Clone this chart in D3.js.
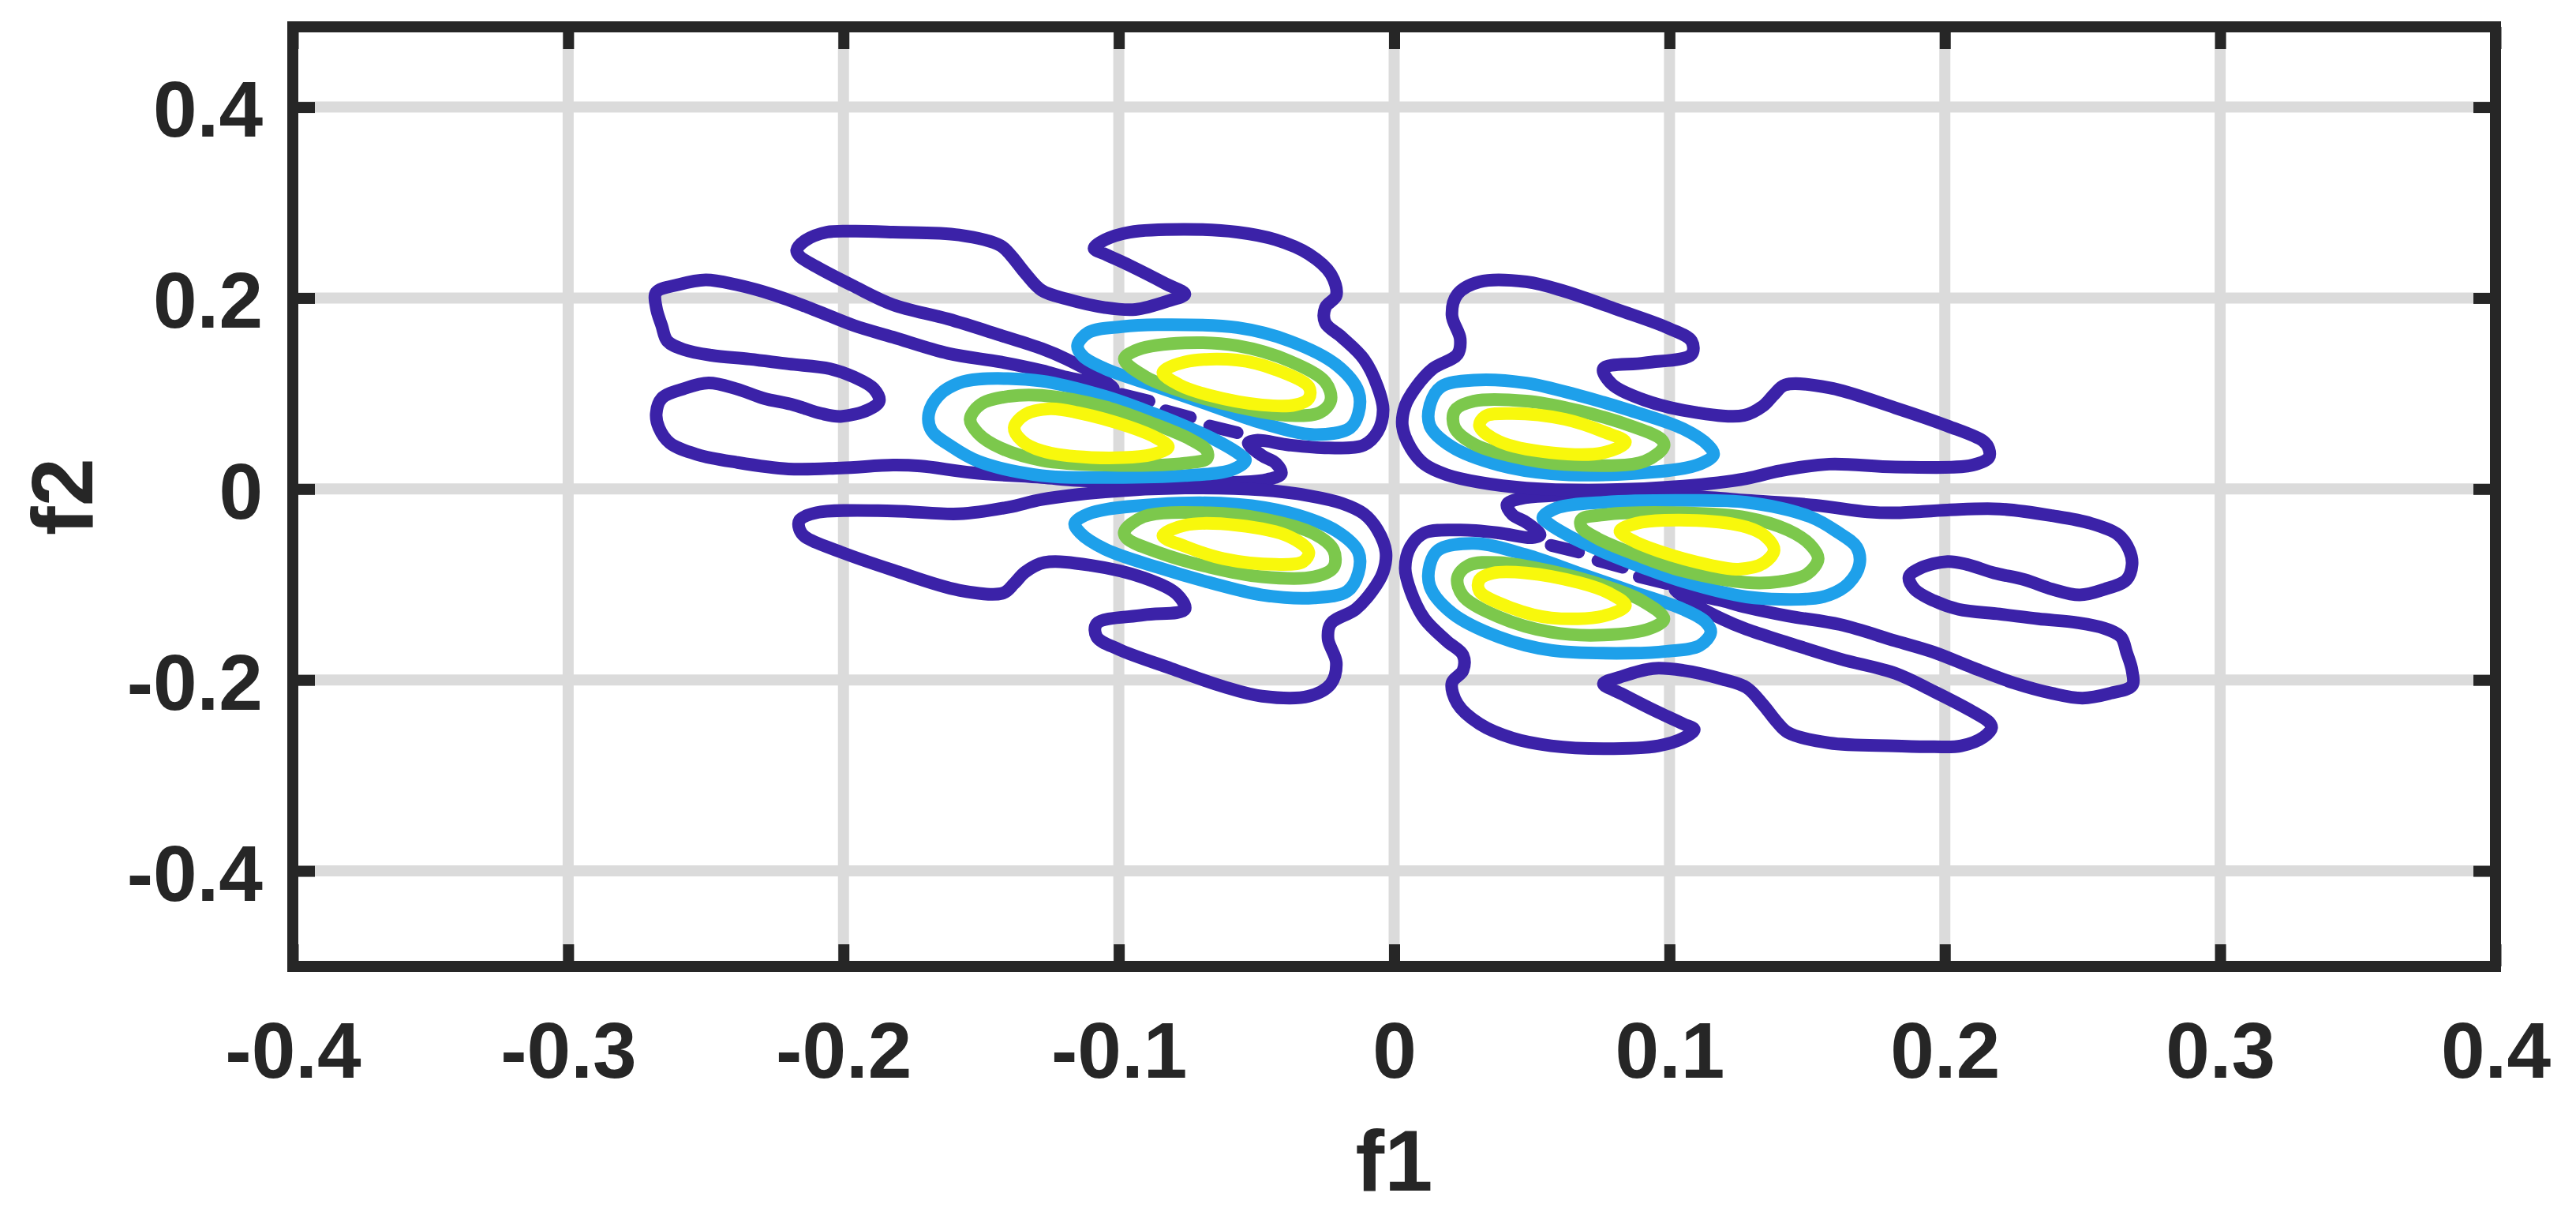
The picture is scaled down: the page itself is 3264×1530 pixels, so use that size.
<!DOCTYPE html>
<html><head><meta charset="utf-8">
<script src="https://cdn.jsdelivr.net/npm/d3@7"></script>
<style>html,body{margin:0;padding:0;background:#fff;}</style>
</head><body>
<svg id="chart" width="3264" height="1530"></svg>
<script>
// ---------------- data ----------------
const xTicks = [-0.4, -0.3, -0.2, -0.1, 0, 0.1, 0.2, 0.3, 0.4];
const yTicks = [-0.4, -0.2, 0, 0.2, 0.4];
const xTickLabels = ["-0.4", "-0.3", "-0.2", "-0.1", "0", "0.1", "0.2", "0.3", "0.4"];
const yTickLabels = ["-0.4", "-0.2", "0", "0.2", "0.4"];
const xDomain = [-0.4, 0.4];
const yDomain = [-0.5, 0.484];
const xLabel = "f1";
const yLabel = "f2";
const levelNames = ["level1", "level2", "level3", "level4"];

// left group
const outerL = [[-0.217,0.250],[-0.214,0.260],[-0.206,0.269],[-0.196,0.270],[-0.182,0.269],[-0.158,0.266],[-0.143,0.255],[-0.139,0.244],[-0.134,0.226],[-0.128,0.208],[-0.119,0.199],[-0.105,0.190],[-0.094,0.188],[-0.082,0.197],[-0.076,0.204],[-0.083,0.215],[-0.096,0.234],[-0.105,0.246],[-0.109,0.252],[-0.105,0.261],[-0.096,0.269],[-0.076,0.272],[-0.057,0.269],[-0.043,0.261],[-0.031,0.246],[-0.023,0.225],[-0.021,0.203],[-0.025,0.190],[-0.025,0.174],[-0.019,0.159],[-0.011,0.136],[-0.006,0.107],[-0.004,0.083],[-0.006,0.060],[-0.011,0.046],[-0.024,0.043],[-0.038,0.046],[-0.050,0.051],[-0.053,0.048],[-0.048,0.035],[-0.043,0.027],[-0.041,0.016],[-0.046,0.010],[-0.057,0.007],[-0.076,0.006],[-0.096,0.007],[-0.115,0.009],[-0.128,0.012],[-0.153,0.017],[-0.172,0.024],[-0.182,0.025],[-0.201,0.022],[-0.220,0.021],[-0.239,0.028],[-0.253,0.036],[-0.263,0.048],[-0.267,0.064],[-0.268,0.079],[-0.266,0.095],[-0.258,0.105],[-0.249,0.111],[-0.239,0.105],[-0.229,0.095],[-0.218,0.088],[-0.208,0.079],[-0.201,0.076],[-0.191,0.083],[-0.187,0.092],[-0.189,0.105],[-0.196,0.117],[-0.205,0.126],[-0.220,0.131],[-0.234,0.136],[-0.248,0.140],[-0.258,0.146],[-0.264,0.155],[-0.266,0.171],[-0.268,0.190],[-0.268,0.206],[-0.260,0.214],[-0.250,0.219],[-0.239,0.214],[-0.225,0.203],[-0.210,0.187],[-0.196,0.171],[-0.182,0.159],[-0.162,0.142],[-0.143,0.133],[-0.128,0.124],[-0.119,0.117],[-0.108,0.110],[-0.102,0.105],[-0.107,0.117],[-0.119,0.136],[-0.128,0.147],[-0.143,0.161],[-0.162,0.178],[-0.182,0.193],[-0.196,0.212],[-0.210,0.233],[-0.216,0.244]];
const lowerL = [[-0.128,-0.011],[-0.140,-0.019],[-0.158,-0.026],[-0.182,-0.023],[-0.210,-0.025],[-0.216,-0.033],[-0.216,-0.042],[-0.214,-0.050],[-0.201,-0.066],[-0.182,-0.085],[-0.158,-0.106],[-0.142,-0.109],[-0.138,-0.099],[-0.134,-0.087],[-0.127,-0.077],[-0.110,-0.080],[-0.091,-0.093],[-0.079,-0.110],[-0.076,-0.126],[-0.091,-0.132],[-0.108,-0.141],[-0.108,-0.155],[-0.100,-0.168],[-0.081,-0.188],[-0.062,-0.207],[-0.048,-0.217],[-0.031,-0.217],[-0.023,-0.204],[-0.021,-0.182],[-0.024,-0.157],[-0.023,-0.141],[-0.014,-0.126],[-0.008,-0.107],[-0.004,-0.087],[-0.003,-0.066],[-0.006,-0.043],[-0.011,-0.026],[-0.019,-0.015],[-0.031,-0.007],[-0.048,-0.001],[-0.076,0.001],[-0.105,-0.003]];
const dashL1 = [[-0.099,0.099],[-0.089,0.092]];
const dashL2 = [[-0.083,0.082],[-0.074,0.075]];
const dashL3 = [[-0.067,0.066],[-0.057,0.059]];
const blueUL = [[-0.115,0.150],[-0.111,0.164],[-0.099,0.170],[-0.086,0.172],[-0.057,0.169],[-0.038,0.155],[-0.021,0.130],[-0.013,0.102],[-0.013,0.079],[-0.016,0.064],[-0.029,0.057],[-0.048,0.069],[-0.067,0.088],[-0.086,0.107],[-0.105,0.126],[-0.113,0.139]];
const greenUL = [[-0.098,0.136],[-0.093,0.146],[-0.076,0.153],[-0.057,0.150],[-0.038,0.134],[-0.025,0.112],[-0.023,0.093],[-0.027,0.080],[-0.038,0.077],[-0.057,0.086],[-0.076,0.101],[-0.090,0.117]];
const yellowUL = [[-0.084,0.122],[-0.076,0.133],[-0.057,0.135],[-0.043,0.125],[-0.031,0.107],[-0.031,0.095],[-0.036,0.088],[-0.048,0.088],[-0.067,0.098],[-0.078,0.109]];
const blueML = [[-0.169,0.079],[-0.165,0.099],[-0.158,0.111],[-0.151,0.115],[-0.128,0.113],[-0.105,0.097],[-0.091,0.083],[-0.076,0.066],[-0.064,0.050],[-0.056,0.036],[-0.054,0.030],[-0.059,0.020],[-0.076,0.014],[-0.105,0.012],[-0.128,0.014],[-0.151,0.029],[-0.161,0.045],[-0.168,0.061]];
const greenML = [[-0.154,0.073],[-0.150,0.089],[-0.140,0.097],[-0.128,0.098],[-0.105,0.086],[-0.088,0.069],[-0.074,0.052],[-0.068,0.040],[-0.068,0.032],[-0.076,0.027],[-0.105,0.025],[-0.128,0.030],[-0.143,0.043],[-0.151,0.058]];
const yellowML = [[-0.138,0.064],[-0.134,0.078],[-0.125,0.084],[-0.115,0.080],[-0.096,0.065],[-0.086,0.053],[-0.082,0.044],[-0.088,0.036],[-0.110,0.033],[-0.128,0.040],[-0.135,0.050]];
const blueBL = [[-0.116,-0.036],[-0.110,-0.025],[-0.086,-0.016],[-0.057,-0.016],[-0.038,-0.025],[-0.021,-0.044],[-0.013,-0.066],[-0.013,-0.088],[-0.017,-0.107],[-0.029,-0.114],[-0.048,-0.111],[-0.067,-0.098],[-0.086,-0.082],[-0.105,-0.063],[-0.114,-0.046]];
const greenBL = [[-0.098,-0.045],[-0.091,-0.029],[-0.067,-0.025],[-0.048,-0.031],[-0.029,-0.047],[-0.022,-0.064],[-0.022,-0.082],[-0.029,-0.092],[-0.048,-0.092],[-0.067,-0.082],[-0.086,-0.066],[-0.097,-0.052]];
const yellowBL = [[-0.084,-0.049],[-0.076,-0.038],[-0.057,-0.038],[-0.038,-0.050],[-0.031,-0.066],[-0.033,-0.076],[-0.043,-0.079],[-0.062,-0.073],[-0.076,-0.060]];

// right group
const outerR = [[0.217,-0.250],[0.214,-0.260],[0.206,-0.269],[0.196,-0.270],[0.182,-0.269],[0.158,-0.266],[0.143,-0.255],[0.139,-0.244],[0.134,-0.226],[0.128,-0.208],[0.119,-0.199],[0.105,-0.190],[0.094,-0.188],[0.082,-0.197],[0.076,-0.204],[0.083,-0.215],[0.096,-0.234],[0.105,-0.246],[0.109,-0.252],[0.105,-0.261],[0.096,-0.269],[0.076,-0.272],[0.057,-0.269],[0.043,-0.261],[0.031,-0.246],[0.023,-0.225],[0.021,-0.203],[0.025,-0.190],[0.025,-0.174],[0.019,-0.159],[0.011,-0.136],[0.006,-0.107],[0.004,-0.083],[0.006,-0.060],[0.011,-0.046],[0.024,-0.043],[0.038,-0.046],[0.050,-0.051],[0.053,-0.048],[0.048,-0.035],[0.043,-0.027],[0.041,-0.016],[0.046,-0.010],[0.057,-0.007],[0.076,-0.006],[0.096,-0.007],[0.115,-0.009],[0.128,-0.012],[0.153,-0.017],[0.172,-0.024],[0.182,-0.025],[0.201,-0.022],[0.220,-0.021],[0.239,-0.028],[0.253,-0.036],[0.263,-0.048],[0.267,-0.064],[0.268,-0.079],[0.266,-0.095],[0.258,-0.105],[0.249,-0.111],[0.239,-0.105],[0.229,-0.095],[0.218,-0.088],[0.208,-0.079],[0.201,-0.076],[0.191,-0.083],[0.187,-0.092],[0.189,-0.105],[0.196,-0.117],[0.205,-0.126],[0.220,-0.131],[0.234,-0.136],[0.248,-0.140],[0.258,-0.146],[0.264,-0.155],[0.266,-0.171],[0.268,-0.190],[0.268,-0.206],[0.260,-0.214],[0.250,-0.219],[0.239,-0.214],[0.225,-0.203],[0.210,-0.187],[0.196,-0.171],[0.182,-0.159],[0.162,-0.142],[0.143,-0.133],[0.128,-0.124],[0.119,-0.117],[0.108,-0.110],[0.102,-0.105],[0.107,-0.117],[0.119,-0.136],[0.128,-0.147],[0.143,-0.161],[0.162,-0.178],[0.182,-0.193],[0.196,-0.212],[0.210,-0.233],[0.216,-0.244]];
const upperR = [[0.128,0.011],[0.140,0.019],[0.158,0.026],[0.182,0.023],[0.210,0.025],[0.216,0.033],[0.216,0.042],[0.214,0.050],[0.201,0.066],[0.182,0.085],[0.158,0.106],[0.142,0.109],[0.138,0.099],[0.134,0.087],[0.127,0.077],[0.110,0.080],[0.091,0.093],[0.079,0.110],[0.076,0.126],[0.091,0.132],[0.108,0.141],[0.108,0.155],[0.100,0.168],[0.081,0.188],[0.062,0.207],[0.048,0.217],[0.031,0.217],[0.023,0.204],[0.021,0.182],[0.024,0.157],[0.023,0.141],[0.014,0.126],[0.008,0.107],[0.004,0.087],[0.003,0.066],[0.006,0.043],[0.011,0.026],[0.019,0.015],[0.031,0.007],[0.048,0.001],[0.076,-0.001],[0.105,0.003]];
const dashR1 = [[0.099,-0.099],[0.089,-0.092]];
const dashR2 = [[0.083,-0.082],[0.074,-0.075]];
const dashR3 = [[0.067,-0.066],[0.057,-0.059]];
const blueBR = [[0.115,-0.150],[0.111,-0.164],[0.099,-0.170],[0.086,-0.172],[0.057,-0.169],[0.038,-0.155],[0.021,-0.130],[0.013,-0.102],[0.013,-0.079],[0.016,-0.064],[0.029,-0.057],[0.048,-0.069],[0.067,-0.088],[0.086,-0.107],[0.105,-0.126],[0.113,-0.139]];
const greenBR = [[0.098,-0.136],[0.093,-0.146],[0.076,-0.153],[0.057,-0.150],[0.038,-0.134],[0.025,-0.112],[0.023,-0.093],[0.027,-0.080],[0.038,-0.077],[0.057,-0.086],[0.076,-0.101],[0.090,-0.117]];
const yellowBR = [[0.084,-0.122],[0.076,-0.133],[0.057,-0.135],[0.043,-0.125],[0.031,-0.107],[0.031,-0.095],[0.036,-0.088],[0.048,-0.088],[0.067,-0.098],[0.078,-0.109]];
const blueMR = [[0.169,-0.079],[0.165,-0.099],[0.158,-0.111],[0.151,-0.115],[0.128,-0.113],[0.105,-0.097],[0.091,-0.083],[0.076,-0.066],[0.064,-0.050],[0.056,-0.036],[0.054,-0.030],[0.059,-0.020],[0.076,-0.014],[0.105,-0.012],[0.128,-0.014],[0.151,-0.029],[0.161,-0.045],[0.168,-0.061]];
const greenMR = [[0.154,-0.073],[0.150,-0.089],[0.140,-0.097],[0.128,-0.098],[0.105,-0.086],[0.088,-0.069],[0.074,-0.052],[0.068,-0.040],[0.068,-0.032],[0.076,-0.027],[0.105,-0.025],[0.128,-0.030],[0.143,-0.043],[0.151,-0.058]];
const yellowMR = [[0.138,-0.064],[0.134,-0.078],[0.125,-0.084],[0.115,-0.080],[0.096,-0.065],[0.086,-0.053],[0.082,-0.044],[0.088,-0.036],[0.110,-0.033],[0.128,-0.040],[0.135,-0.050]];
const blueUR = [[0.116,0.036],[0.110,0.025],[0.086,0.016],[0.057,0.016],[0.038,0.025],[0.021,0.044],[0.013,0.066],[0.013,0.088],[0.017,0.107],[0.029,0.114],[0.048,0.111],[0.067,0.098],[0.086,0.082],[0.105,0.063],[0.114,0.046]];
const greenUR = [[0.098,0.045],[0.091,0.029],[0.067,0.025],[0.048,0.031],[0.029,0.047],[0.022,0.064],[0.022,0.082],[0.029,0.092],[0.048,0.092],[0.067,0.082],[0.086,0.066],[0.097,0.052]];
const yellowUR = [[0.084,0.049],[0.076,0.038],[0.057,0.038],[0.038,0.050],[0.031,0.066],[0.033,0.076],[0.043,0.079],[0.062,0.073],[0.076,0.060]];

const contourSet = [
  {level: 0, pts: outerL}, {level: 0, pts: lowerL},
  {level: 0, pts: dashL1}, {level: 0, pts: dashL2}, {level: 0, pts: dashL3},
  {level: 0, pts: outerR}, {level: 0, pts: upperR},
  {level: 0, pts: dashR1}, {level: 0, pts: dashR2}, {level: 0, pts: dashR3},
  {level: 1, pts: blueUL}, {level: 1, pts: blueML}, {level: 1, pts: blueBL},
  {level: 1, pts: blueUR}, {level: 1, pts: blueMR}, {level: 1, pts: blueBR},
  {level: 2, pts: greenUL}, {level: 2, pts: greenML}, {level: 2, pts: greenBL},
  {level: 2, pts: greenUR}, {level: 2, pts: greenMR}, {level: 2, pts: greenBR},
  {level: 3, pts: yellowUL}, {level: 3, pts: yellowML}, {level: 3, pts: yellowBL},
  {level: 3, pts: yellowUR}, {level: 3, pts: yellowMR}, {level: 3, pts: yellowBR}
];

// ---------------- layout & style ----------------
const W = 3264, H = 1530;
const margin = {left: 371, right: 102, top: 34, bottom: 306};
const levelColors = ["#3b22a8", "#1ea0ea", "#7cc84c", "#f8f80c"];
const axisColor = "#262626";
const gridColor = "#dbdbdb";
const fontFamily = "'Liberation Sans', Arial, Helvetica, sans-serif";
const contourWidth = 16;

const svg = d3.select("#chart");
const x = d3.scaleLinear().domain(xDomain).range([margin.left, W - margin.right]);
const y = d3.scaleLinear().domain(yDomain).range([H - margin.bottom, margin.top]);
const x0 = x.range()[0], x1 = x.range()[1], y0 = y.range()[1], y1 = y.range()[0];

// grid
const grid = svg.append("g");
grid.selectAll("line.gx").data(xTicks.filter(t => t > xDomain[0] && t < xDomain[1])).enter()
  .append("line").attr("x1", d => x(d)).attr("x2", d => x(d)).attr("y1", y0).attr("y2", y1)
  .attr("stroke", gridColor).attr("stroke-width", 14);
grid.selectAll("line.gy").data(yTicks).enter()
  .append("line").attr("y1", d => y(d)).attr("y2", d => y(d)).attr("x1", x0).attr("x2", x1)
  .attr("stroke", gridColor).attr("stroke-width", 14);

// contours
const line = d3.line().x(d => x(d[0])).y(d => y(d[1])).curve(d3.curveCatmullRomClosed.alpha(0.5));
svg.append("g").selectAll("path").data(contourSet).enter().append("path")
  .attr("d", d => line(d.pts))
  .attr("fill", "none")
  .attr("stroke", d => levelColors[d.level])
  .attr("stroke-width", contourWidth)
  .attr("stroke-linejoin", "round")
  .attr("stroke-linecap", "round");

// axes (ticks inward on all sides)
const tickLen = 28;
const axB = d3.axisBottom(x).tickValues(xTicks).tickSize(-tickLen).tickFormat((d, i) => xTickLabels[i]);
const axT = d3.axisTop(x).tickValues(xTicks).tickSize(-tickLen).tickFormat("");
const axL = d3.axisLeft(y).tickValues(yTicks).tickSize(-tickLen).tickFormat((d, i) => yTickLabels[i]);
const axR = d3.axisRight(y).tickValues(yTicks).tickSize(-tickLen).tickFormat("");

function styleAxis(g) {
  g.select(".domain").remove();
  g.selectAll(".tick line").attr("stroke", axisColor).attr("stroke-width", 14);
  g.selectAll(".tick text").attr("fill", axisColor).style("font-family", fontFamily)
    .style("font-weight", "bold").style("font-size", "100px");
}
const gB = svg.append("g").attr("transform", `translate(0,${y1})`).call(axB).call(styleAxis);
gB.selectAll(".tick text").attr("y", 141).attr("dy", null);
const gT = svg.append("g").attr("transform", `translate(0,${y0})`).call(axT).call(styleAxis);
const gL = svg.append("g").attr("transform", `translate(${x0},0)`).call(axL).call(styleAxis);
gL.selectAll(".tick text").attr("x", -38).attr("dy", null).attr("y", 37);
const gR = svg.append("g").attr("transform", `translate(${x1},0)`).call(axR).call(styleAxis);

// box
svg.append("rect").attr("x", x0).attr("y", y0).attr("width", x1 - x0).attr("height", y1 - y0)
  .attr("fill", "none").attr("stroke", axisColor).attr("stroke-width", 14);

// axis labels
svg.append("text").attr("x", (x0 + x1) / 2).attr("y", 1508).attr("text-anchor", "middle")
  .attr("fill", axisColor).style("font-family", fontFamily).style("font-weight", "bold")
  .style("font-size", "110px").text(xLabel);
svg.append("text").attr("transform", `translate(117,${(y0 + y1) / 2}) rotate(-90)`)
  .attr("text-anchor", "middle").attr("fill", axisColor).style("font-family", fontFamily)
  .style("font-weight", "bold").style("font-size", "110px").text(yLabel);
</script>
</body></html>
